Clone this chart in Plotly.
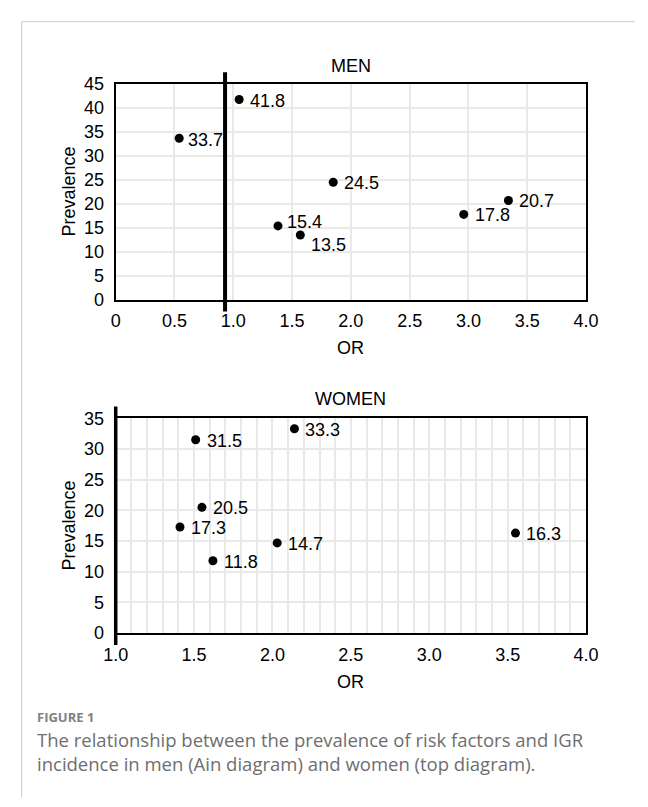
import plotly.graph_objects as go

# ---- data ----
men_or = [0.54, 1.05, 1.38, 1.57, 1.85, 2.96, 3.34]
men_prev = [33.7, 41.8, 15.4, 13.5, 24.5, 17.8, 20.7]
men_labels = ["33.7", "41.8", "15.4", "13.5", "24.5", "17.8", "20.7"]

women_or = [1.51, 2.14, 1.55, 1.41, 2.03, 1.62, 3.55]
women_prev = [31.5, 33.3, 20.5, 17.3, 14.7, 11.8, 16.3]
women_labels = ["31.5", "33.3", "20.5", "17.3", "14.7", "11.8", "16.3"]

men_ref_or = 0.93
women_ref_or = 1.0

men_xticks = [0, 0.5, 1.0, 1.5, 2.0, 2.5, 3.0, 3.5, 4.0]
men_xticktext = ["0", "0.5", "1.0", "1.5", "2.0", "2.5", "3.0", "3.5", "4.0"]
women_xticks = [1.0, 1.5, 2.0, 2.5, 3.0, 3.5, 4.0]
women_xticktext = ["1.0", "1.5", "2.0", "2.5", "3.0", "3.5", "4.0"]
men_yticks = list(range(0, 50, 5))
women_yticks = list(range(0, 40, 5))

# label offsets (pixels) for a few labels that sit off the middle-right spot
label_yshift = {"15.4": 4, "13.5": -10, "33.7": -2, "41.8": -2}
label_xshift = {"15.4": 7, "33.7": 7}

W, H = 648, 807
FONT = "Arial, Liberation Sans, sans-serif"
CAP_FONT = "Open Sans, Noto Sans, sans-serif"

def px_x(p):
    return p / W

def px_y(p):
    return 1 - p / H

fig = go.Figure()

fig.add_trace(go.Scatter(
    x=men_or, y=men_prev, mode="markers", marker=dict(color="black", size=9),
    xaxis="x", yaxis="y", cliponaxis=False, showlegend=False))

fig.add_trace(go.Scatter(
    x=women_or, y=women_prev, mode="markers", marker=dict(color="black", size=9),
    xaxis="x2", yaxis="y2", cliponaxis=False, showlegend=False))

xdom = [px_x(107), px_x(597)]
axis_common = dict(showline=True, linecolor="black", linewidth=2, mirror=True,
                   ticks="", zeroline=False, gridcolor="#e9e9e9", gridwidth=1.5,
                   tickfont=dict(family=FONT, size=18, color="black"))

fig.update_layout(
    width=W, height=H, margin=dict(l=0, r=0, t=0, b=0),
    paper_bgcolor="white", plot_bgcolor="white",
    xaxis=dict(domain=xdom, range=[0, 4], tickvals=men_xticks, ticktext=men_xticktext,
               anchor="y", ticklabelstandoff=4, **axis_common),
    yaxis=dict(domain=[px_y(297), px_y(76)], range=[0, 45], tickvals=men_yticks,
               anchor="x", ticklabelstandoff=6, **axis_common),
    xaxis2=dict(domain=xdom, range=[1, 4], tickvals=women_xticks, ticktext=women_xticktext,
                anchor="y2", ticklabelstandoff=4,
                minor=dict(dtick=0.1, showgrid=True, gridcolor="#e9e9e9", gridwidth=1.5, ticks=""),
                **axis_common),
    yaxis2=dict(domain=[px_y(639), px_y(418.7)], range=[0, 35], tickvals=women_yticks,
                anchor="x2", ticklabelstandoff=6, **axis_common),
)

# reference vertical lines (OR = 1 lines), extending beyond plot box
for xr, yr, val, rng, lw in [("x domain", "y domain", men_ref_or, [0, 4], 4),
                             ("x2 domain", "y2 domain", women_ref_or, [1, 4], 3.5)]:
    f = (val - rng[0]) / (rng[1] - rng[0])
    fig.add_shape(type="line", xref=xr, yref=yr, x0=f, x1=f, y0=-0.055, y1=1.055,
                  line=dict(color="black", width=lw), layer="above")

# figure frame (top and left light grey lines)
fig.add_shape(type="line", xref="paper", yref="paper", x0=px_x(9), x1=1.0,
              y0=px_y(12), y1=px_y(12), line=dict(color="#cccccc", width=1))
fig.add_shape(type="line", xref="paper", yref="paper", x0=px_x(9), x1=px_x(9),
              y0=0, y1=px_y(12), line=dict(color="#cccccc", width=1))

ann = []
# data labels
for xs, ys, labs, xa, ya in [(men_or, men_prev, men_labels, "x", "y"),
                             (women_or, women_prev, women_labels, "x2", "y2")]:
    for xv, yv, lab in zip(xs, ys, labs):
        ann.append(dict(text=lab, x=xv, y=yv, xref=xa, yref=ya, showarrow=False,
                        xanchor="left", yanchor="middle",
                        xshift=label_xshift.get(lab, 9), yshift=label_yshift.get(lab, -1),
                        font=dict(family=FONT, size=18, color="black")))

def add_text(text, x, y, size=18, color="black", family=FONT, xanchor="center",
             textangle=0, xref="paper", align="center"):
    ann.append(dict(text=text, x=x, y=y, xref=xref, yref="paper", showarrow=False,
                    xanchor=xanchor, yanchor="middle", textangle=textangle, align=align,
                    font=dict(family=family, size=size, color=color)))

add_text("MEN", 0.5, px_y(57), xref="x domain")
add_text("OR", 0.5, px_y(347), xref="x domain")
add_text("Prevalence", px_x(58), px_y(186.5), textangle=-90)
add_text("WOMEN", 0.5, px_y(399), xref="x2 domain")
add_text("OR", 0.5, px_y(689), xref="x2 domain")
add_text("Prevalence", px_x(58), px_y(529), textangle=-90)

add_text("<b>FIGURE 1</b>", px_x(23), px_y(725), size=13, color="#808080",
         family=CAP_FONT, xanchor="left")
add_text("The relationship between the prevalence of risk factors and IGR<br>"
         "incidence in men (Ain diagram) and women (top diagram).",
         px_x(23), px_y(760), size=18.5, color="#6e6e6e", family=CAP_FONT,
         xanchor="left", align="left")

fig.update_layout(annotations=ann)
fig.write_html("out.html", config={"displayModeBar": False},
               post_script="document.body.style.margin='0px';")
